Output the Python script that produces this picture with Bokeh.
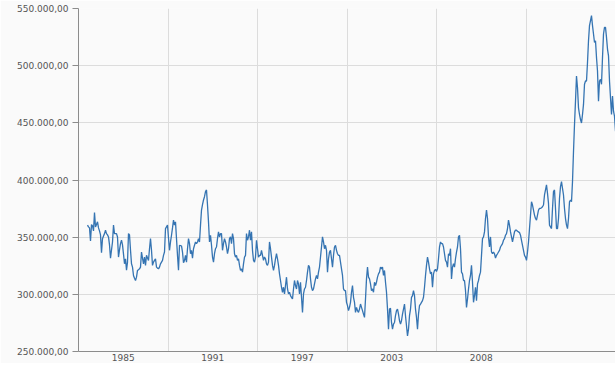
from bokeh.plotting import figure
from bokeh.models import Range1d, FixedTicker
from bokeh.embed import file_html
from bokeh.resources import INLINE

# Series values (thousands), one per period
value_k = [
    360.5, 359.0, 358.1, 346.7, 361.0, 359.9, 355.5, 371.6, 359.0, 361.0,
    363.4, 358.1, 355.5, 352.0, 336.4, 348.7, 351.1, 353.1, 356.1, 353.1,
    352.0, 350.2, 343.2, 331.7, 338.8, 345.8, 360.5, 353.1, 353.1, 353.1,
    350.2, 332.6, 338.8, 344.3, 347.3, 343.2, 335.2, 326.7, 331.1, 321.2,
    328.2, 353.1, 352.0, 338.8, 326.7, 323.8, 316.5, 314.1, 312.1, 315.0,
    320.9, 321.6, 322.3, 323.8, 337.0, 331.7, 326.7, 332.6, 325.3, 334.1,
    331.7, 329.7, 339.9, 348.7, 338.5, 325.3, 328.2, 329.7, 331.1, 323.8,
    322.9, 322.3, 323.8, 326.7, 328.2, 329.7, 334.1, 337.0,
    357.5, 359.0, 360.5, 349.3, 338.5, 345.8, 351.7, 358.1, 364.9, 360.5,
    363.4, 348.7, 334.1, 321.0, 342.9, 342.7, 342.3, 337.0, 327.6, 329.7,
    334.1, 328.2, 339.9, 348.7, 344.3, 335.5, 338.5, 331.7, 339.9, 342.9,
    345.8, 344.3, 345.8, 348.7, 345.8, 360.5, 373.7, 378.4, 382.5, 385.4,
    389.8, 391.3, 378.1, 363.4, 345.8, 351.7, 342.9, 332.6, 328.2, 335.5,
    339.9, 341.4, 348.7, 354.6, 350.2, 353.1, 353.1, 338.5, 344.3, 348.7,
    345.8, 341.4, 335.5, 339.9, 348.7, 350.2, 344.3, 353.1, 348.7, 335.5,
    332.6, 334.1, 329.7, 331.1, 325.3, 320.9, 322.3, 319.4, 326.7, 332.6,
    334.1, 353.1, 347.3, 350.2, 356.1, 347.3, 354.6, 338.5, 329.7, 328.2,
    332.6, 347.3, 339.9, 332.6, 334.1, 334.1, 338.5, 334.1, 329.7, 332.6,
    331.1, 326.7, 325.3, 328.2, 345.8, 339.9, 332.6, 325.3, 320.9, 325.3,
    331.1, 335.5, 331.1, 325.3, 317.9, 312.1, 306.2, 301.8, 306.2, 300.3,
    307.7, 315.0, 304.7, 300.3, 301.8, 298.9, 297.4, 295.9, 304.7, 312.1,
    307.7, 304.7, 312.1, 309.1, 300.3, 310.6, 297.4, 284.2, 300.3, 304.7,
    306.2, 312.1, 319.4, 325.3, 323.8, 313.5, 306.2, 303.3, 304.7, 309.1,
    313.5, 316.5, 313.5, 319.4, 323.8, 332.6, 341.4, 350.2, 345.8, 339.9,
    342.9, 338.5, 319.4, 331.1, 337.0, 338.5, 331.1, 323.8, 334.1, 341.4,
    342.9, 338.5, 335.5, 334.1, 334.1, 328.2, 322.3, 316.5, 304.7, 303.3,
    303.3, 293.0, 290.1, 285.7, 288.6, 293.0, 301.8, 307.7, 297.4, 293.0,
    284.2, 288.6, 285.7, 284.2, 287.1, 291.5, 288.6, 285.7, 282.7, 279.8,
    295.9, 313.5, 323.8, 315.0, 313.5, 309.1, 303.3, 304.7, 301.8, 310.6,
    307.7, 310.6, 315.0, 317.9, 319.4, 323.8, 322.3, 323.8, 316.5, 320.9,
    310.6, 301.8, 287.1, 269.5, 287.1, 287.7, 275.4, 269.5, 273.9, 275.4,
    281.3, 285.7, 287.1, 282.7, 276.9, 273.9, 276.9, 282.7, 287.1, 291.5,
    281.3, 272.5, 263.7, 269.5, 281.3, 287.1, 297.4, 298.9, 303.3, 298.9,
    287.1, 279.8, 269.5, 282.7, 290.1, 291.5, 293.0, 294.5, 297.4, 306.2,
    316.5, 325.3, 332.6, 328.2, 322.3, 317.9, 319.4, 306.2, 317.9, 320.9,
    321.8, 320.0, 322.3, 331.1, 341.4, 345.8, 344.3, 344.3, 341.4, 335.5,
    329.7, 328.2, 323.8, 335.5, 334.1, 339.9, 313.5, 323.8, 326.7, 323.8,
    331.1, 337.0, 341.4, 350.2, 351.7, 339.9, 319.4, 317.9, 312.1, 312.1,
    303.3, 288.6, 295.9, 304.7, 312.1, 316.5, 325.3, 310.6, 293.0, 298.9,
    306.2, 294.5, 309.1, 312.1, 316.5, 319.4, 334.1, 348.7, 350.2, 354.6,
    366.3, 373.7, 366.3, 350.2, 341.4, 350.2, 337.0, 335.5, 337.0, 335.5,
    331.7, 334.1, 335.5, 337.0, 338.5, 341.4, 342.9, 344.3, 347.3, 348.7,
    351.7, 353.1, 357.5, 364.9, 360.5, 354.6, 350.2, 345.8, 350.2, 354.6,
    356.1, 356.1, 355.2, 354.6, 354.0, 351.7, 347.3, 342.9, 338.5, 334.1,
    332.6, 329.7, 337.0, 345.8, 357.5, 369.3, 381.0, 378.1, 373.7, 369.3,
    366.3, 364.9, 369.3, 373.7, 375.1, 375.1, 375.7, 376.6, 378.1, 386.9,
    391.3, 395.7, 388.3, 379.5, 360.5, 359.0, 357.5, 375.1, 389.8, 391.3,
    375.1, 357.5, 357.5, 366.3, 383.9, 394.2, 398.6, 392.7, 386.9, 375.1,
    366.3, 360.5, 357.5, 366.3, 381.0, 382.5, 381.0, 398.6, 425.0, 448.5,
    469.0, 491.0, 480.7, 463.1, 457.3, 452.9, 449.9, 457.3, 466.1, 483.7,
    486.6, 486.6, 502.7, 521.8, 535.0, 539.4, 543.8, 535.0, 527.7, 520.3,
    521.8, 507.1, 495.4, 469.0, 486.6, 488.1, 483.7, 507.1, 527.7, 533.5,
    533.5, 524.7, 514.5, 508.6, 486.6, 471.9, 457.3, 473.4, 460.2, 455.8, 442.6,
]
period = list(range(len(value_k)))

y_ticks = [250, 300, 350, 400, 450, 500, 550]
y_tick_labels = ["250.000,00", "300.000,00", "350.000,00", "400.000,00",
                 "450.000,00", "500.000,00", "550.000,00"]
x_labels = ["1985", "1991", "1997", "2003", "2008"]

# band layout of the category-like time axis
x_start, x_end, band = -9, 528, 89.5
band_edges = [x_start + band * (k + 1) for k in range(len(x_labels))]
band_centers = [x_start + band * (k + 0.5) for k in range(len(x_labels))]

p = figure(width=615, height=363, output_backend="svg", toolbar_location=None,
           x_range=Range1d(x_start, x_end), y_range=Range1d(250, 550),
           min_border_left=78, min_border_right=0, min_border_top=8,
           min_border_bottom=0)

p.line(period, value_k, line_color="#3574b2", line_width=1.3)

p.background_fill_color = "#fafafa"
p.border_fill_color = "#fafafa"
p.outline_line_color = None

p.yaxis.ticker = FixedTicker(ticks=y_ticks)
p.yaxis.major_label_overrides = {t: s for t, s in zip(y_ticks, y_tick_labels)}
p.xaxis.ticker = FixedTicker(ticks=band_centers)
p.xaxis.major_label_overrides = {t: s for t, s in zip(band_centers, x_labels)}

p.xgrid.ticker = FixedTicker(ticks=band_edges)
p.ygrid.ticker = FixedTicker(ticks=y_ticks[1:-1])
for g in (p.xgrid, p.ygrid):
    g.grid_line_color = "#dcdcdc"
    g.grid_line_width = 1

xa = p.xaxis[0]
ya = p.yaxis[0]
for ax in (xa, ya):
    ax.axis_line_color = "#8c8c8c"
    ax.axis_line_width = 1
    ax.minor_tick_line_color = None
    ax.major_label_text_font = "DejaVu Sans"
    ax.major_label_text_font_size = "9px"
    ax.major_label_text_color = "#555555"

xa.major_tick_line_color = None
xa.major_tick_out = 0
xa.major_label_standoff = 2
ya.major_tick_line_color = "#8c8c8c"
ya.major_tick_out = 6
ya.major_tick_in = 0
ya.major_label_standoff = 4

open("out.html", "w").write(file_html(p, INLINE))
